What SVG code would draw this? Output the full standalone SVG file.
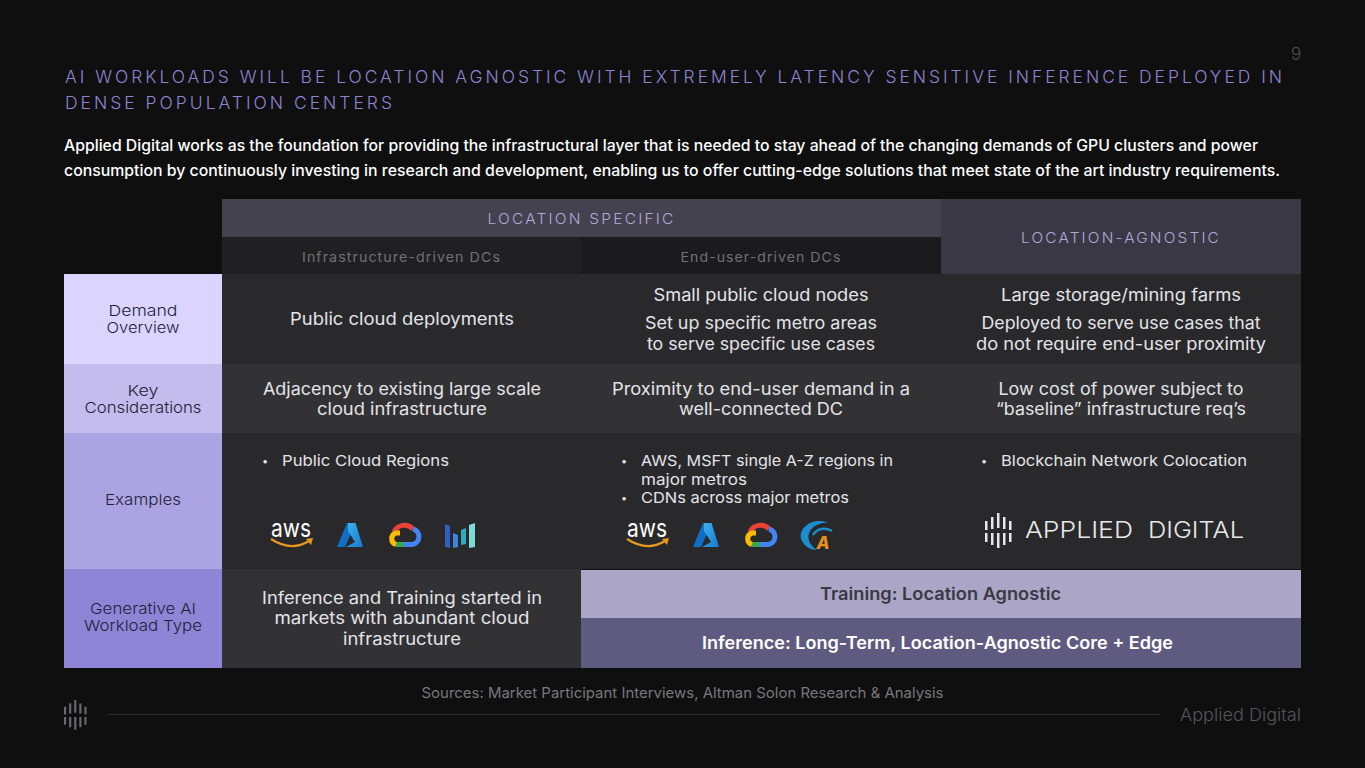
<svg xmlns="http://www.w3.org/2000/svg" width="1365" height="768" viewBox="0 0 1365 768">
<style>
text{font-family:Inter,"Liberation Sans",sans-serif;}
.c{text-anchor:middle}
.b{fill:#e4e4e8;font-size:17px}
.l{fill:#221e3a;font-size:15px;text-anchor:middle;font-weight:300}
.e{fill:#e4e4e8;font-size:15px}
.d{fill:#e4e4e8;font-size:11px}
.h{font-size:14px;fill:#b0aad8;text-anchor:middle;letter-spacing:2px;font-weight:300}
.s{font-size:13.500px;fill:#707076;text-anchor:middle;letter-spacing:1px}
.t{font-size:17.500px;fill:#8e84d2;letter-spacing:3px;font-weight:300}
.p{font-size:15.500px;fill:#fff;font-weight:500}
.w{font-size:17px;font-weight:600}
</style>
<defs>
<linearGradient id="az" x1="0" y1="0" x2="1" y2="1"><stop offset="0" stop-color="#3cb4ee"/><stop offset="1" stop-color="#1a78d0"/></linearGradient>
<g id="aws"><text x="20" y="17" class="c" style="font-size:25px;fill:#fff" textLength="40" lengthAdjust="spacingAndGlyphs">aws</text><path d="M0 19Q20 32 38 21" fill="none" stroke="#e8991f" stroke-width="2.200"/><path d="M35 19L42 18L40 25Z" fill="#e8991f"/></g>
<g id="azure"><path d="M10 0H19L8 24H0Z" fill="#0f6fc4"/><path d="M11 0H18.500L26 24H9L18 19L11 8Z" fill="url(#az)"/></g>
<g id="gcp" fill="none" stroke-width="5"><path d="M6 11A11.500 11.500 0 0 1 25 8" stroke="#ea4335"/><path d="M25 8A8.500 8 0 0 1 24 23.500H16" stroke="#4285f4"/><path d="M16 23.500H8" stroke="#34a853"/><path d="M8 23.500A6 6 0 0 1 8 12H12" stroke="#fbbc05"/></g>
<g id="mark"><rect x="0" y="8" width="2.500" height="9"/><rect x="0" y="20" width="2.500" height="9"/><rect x="6" y="4" width="2.500" height="12"/><rect x="6" y="20" width="2.500" height="12"/><rect x="12" y="0" width="2.500" height="15"/><rect x="12" y="20" width="2.500" height="15"/><rect x="18" y="4" width="2.500" height="12"/><rect x="18" y="20" width="2.500" height="12"/><rect x="24" y="8" width="2.500" height="9"/><rect x="24" y="20" width="2.500" height="9"/></g>
</defs>
<rect width="1365" height="768" fill="#0f0f10"/>
<text x="1296" y="60" class="c" style="font-size:17px;font-weight:300;fill:#505054">9</text>
<text class="t" x="65" y="83" textLength="1220" lengthAdjust="spacingAndGlyphs">AI WORKLOADS WILL BE LOCATION AGNOSTIC WITH EXTREMELY LATENCY SENSITIVE INFERENCE DEPLOYED IN</text>
<text class="t" x="65" y="109" textLength="330" lengthAdjust="spacingAndGlyphs">DENSE POPULATION CENTERS</text>
<text class="p" x="64" y="151" textLength="1194" lengthAdjust="spacingAndGlyphs">Applied Digital works as the foundation for providing the infrastructural layer that is needed to stay ahead of the changing demands of GPU clusters and power</text>
<text class="p" x="64" y="176" textLength="1216" lengthAdjust="spacingAndGlyphs">consumption by continuously investing in research and development, enabling us to offer cutting-edge solutions that meet state of the art industry requirements.</text>

<g id="header-specific"><rect x="222" y="199" width="719" height="38" fill="#45424f"/><text class="h" x="581.500" y="224" textLength="188" lengthAdjust="spacingAndGlyphs">LOCATION SPECIFIC</text></g>
<g id="header-agnostic"><rect x="941" y="199" width="360" height="75" fill="#3a3845"/><text class="h" x="1121" y="243" textLength="200" lengthAdjust="spacingAndGlyphs">LOCATION-AGNOSTIC</text></g>
<g id="header-infra"><rect x="222" y="237" width="359" height="37" fill="#202023"/><text class="s" x="401.500" y="262" textLength="199" lengthAdjust="spacingAndGlyphs">Infrastructure-driven DCs</text></g>
<g id="header-enduser"><rect x="581" y="237" width="360" height="37" fill="#1b1b1e"/><text class="s" x="761" y="262" textLength="161" lengthAdjust="spacingAndGlyphs">End-user-driven DCs</text></g>

<g id="row-demand">
<rect x="64" y="274" width="158" height="90" fill="#dad4ff"/>
<text class="l" x="143" y="316" textLength="69" lengthAdjust="spacingAndGlyphs">Demand</text><text class="l" x="143" y="333" textLength="73" lengthAdjust="spacingAndGlyphs">Overview</text>
<rect x="222" y="274" width="1079" height="90" fill="#29292c"/>
<text class="b c" x="402" y="325" textLength="224" lengthAdjust="spacingAndGlyphs">Public cloud deployments</text>
<text class="b c" x="761" y="301" textLength="215" lengthAdjust="spacingAndGlyphs">Small public cloud nodes</text>
<text class="b c" x="761" y="329" textLength="232" lengthAdjust="spacingAndGlyphs">Set up specific metro areas</text>
<text class="b c" x="761" y="350" textLength="228" lengthAdjust="spacingAndGlyphs">to serve specific use cases</text>
<text class="b c" x="1121" y="301" textLength="240" lengthAdjust="spacingAndGlyphs">Large storage/mining farms</text>
<text class="b c" x="1121" y="329" textLength="279" lengthAdjust="spacingAndGlyphs">Deployed to serve use cases that</text>
<text class="b c" x="1121" y="350" textLength="290" lengthAdjust="spacingAndGlyphs">do not require end-user proximity</text>
</g>
<g id="row-key">
<rect x="64" y="364" width="158" height="69" fill="#c3bcec"/>
<text class="l" x="143" y="396" textLength="31" lengthAdjust="spacingAndGlyphs">Key</text><text class="l" x="143" y="413" textLength="117" lengthAdjust="spacingAndGlyphs">Considerations</text>
<rect x="222" y="364" width="1079" height="69" fill="#323235"/>
<text class="b c" x="402" y="395" textLength="278" lengthAdjust="spacingAndGlyphs">Adjacency to existing large scale</text>
<text class="b c" x="402" y="415" textLength="170" lengthAdjust="spacingAndGlyphs">cloud infrastructure</text>
<text class="b c" x="761" y="395" textLength="298" lengthAdjust="spacingAndGlyphs">Proximity to end-user demand in a</text>
<text class="b c" x="761" y="415" textLength="164" lengthAdjust="spacingAndGlyphs">well-connected DC</text>
<text class="b c" x="1121" y="395" textLength="245" lengthAdjust="spacingAndGlyphs">Low cost of power subject to</text>
<text class="b c" x="1121" y="415" textLength="250" lengthAdjust="spacingAndGlyphs">“baseline” infrastructure req’s</text>
</g>
<g id="row-examples">
<rect x="64" y="433" width="158" height="136" fill="#aca4e2"/>
<text class="l" x="143" y="505" textLength="76" lengthAdjust="spacingAndGlyphs">Examples</text>
<rect x="222" y="433" width="1079" height="136" fill="#29292c"/>
<text class="d" x="262" y="465">•</text><text class="e" x="282" y="466" textLength="167" lengthAdjust="spacingAndGlyphs">Public Cloud Regions</text>
<text class="d" x="621" y="465">•</text><text class="e" x="641" y="466" textLength="252" lengthAdjust="spacingAndGlyphs">AWS, MSFT single A-Z regions in</text>
<text class="e" x="641" y="485" textLength="106" lengthAdjust="spacingAndGlyphs">major metros</text>
<text class="d" x="621" y="502">•</text><text class="e" x="641" y="503" textLength="208" lengthAdjust="spacingAndGlyphs">CDNs across major metros</text>
<text class="d" x="981" y="465">•</text><text class="e" x="1001" y="466" textLength="246" lengthAdjust="spacingAndGlyphs">Blockchain Network Colocation</text>
<use href="#aws" x="271" y="520"/>
<use href="#azure" x="337" y="523"/>
<use href="#gcp" x="388" y="521"/>
<g id="logo-bars"><path d="M445 524l5 2v22l-5-1z" fill="#2f5fc4"/><path d="M453 533l5 2v12l-5 1z" fill="#3f86d8"/><path d="M461 530l5-2v16l-5 1z" fill="#35a9bf"/><path d="M469 525l6-2v24l-6 1z" fill="#7cdcd4"/></g>
<use href="#aws" x="627" y="520"/>
<use href="#azure" x="693" y="523"/>
<use href="#gcp" x="744" y="521"/>
<g id="logo-akamai"><path d="M828 523C812 516 796 530 802 541C805 547 811 550 817 550C810 546 806 538 810 531C813 526 821 522 828 523Z" fill="#1a8fd0"/><path d="M813 535C817 528 826 527 832 531" fill="none" stroke="#1a8fd0" stroke-width="2.500"/><text x="823" y="549" class="c" style="font-size:17px;font-weight:800;font-style:italic;fill:#e8901f">A</text></g>
<g id="logo-applied"><use href="#mark" x="985" y="513" fill="#e8e8e8"/><text x="1025" y="538" style="font-size:23px;font-weight:300;fill:#e8e8e8" textLength="108" lengthAdjust="spacingAndGlyphs">APPLIED</text><text x="1148" y="538" style="font-size:23px;font-weight:300;fill:#e8e8e8" textLength="96" lengthAdjust="spacingAndGlyphs">DIGITAL</text></g>
</g>
<g id="row-genai">
<rect x="64" y="569" width="158" height="99" fill="#8f85d6"/>
<text class="l" x="143" y="614" textLength="106" lengthAdjust="spacingAndGlyphs">Generative AI</text><text class="l" x="143" y="631" textLength="118" lengthAdjust="spacingAndGlyphs">Workload Type</text>
<rect x="222" y="569" width="359" height="99" fill="#323235"/>
<text class="b c" x="402" y="604" textLength="280" lengthAdjust="spacingAndGlyphs">Inference and Training started in</text>
<text class="b c" x="402" y="624" textLength="255" lengthAdjust="spacingAndGlyphs">markets with abundant cloud</text>
<text class="b c" x="402" y="645" textLength="118" lengthAdjust="spacingAndGlyphs">infrastructure</text>
<rect x="581" y="570" width="720" height="48" fill="#aba6c5"/>
<text class="c w" x="940.500" y="600" textLength="241" lengthAdjust="spacingAndGlyphs" style="fill:#3a3845">Training: Location Agnostic</text>
<rect x="581" y="618" width="720" height="50" fill="#5f5a80"/>
<text class="c w" x="937.500" y="649" textLength="471" lengthAdjust="spacingAndGlyphs" style="fill:#fff">Inference: Long-Term, Location-Agnostic Core + Edge</text>
</g>
<text class="c" x="682.500" y="698" textLength="522" lengthAdjust="spacingAndGlyphs" style="font-size:14.500px;fill:#77777c">Sources: Market Participant Interviews, Altman Solon Research &amp; Analysis</text>
<g id="footer">
<use href="#mark" transform="translate(64 700) scale(.85)" fill="#6a6a6e"/>
<rect x="107" y="714" width="1053" height="1" fill="#2c2c30"/>
<text x="1180" y="721" textLength="121" lengthAdjust="spacingAndGlyphs" style="font-size:17px;font-weight:300;fill:#55555a">Applied Digital</text></g>
</svg>
